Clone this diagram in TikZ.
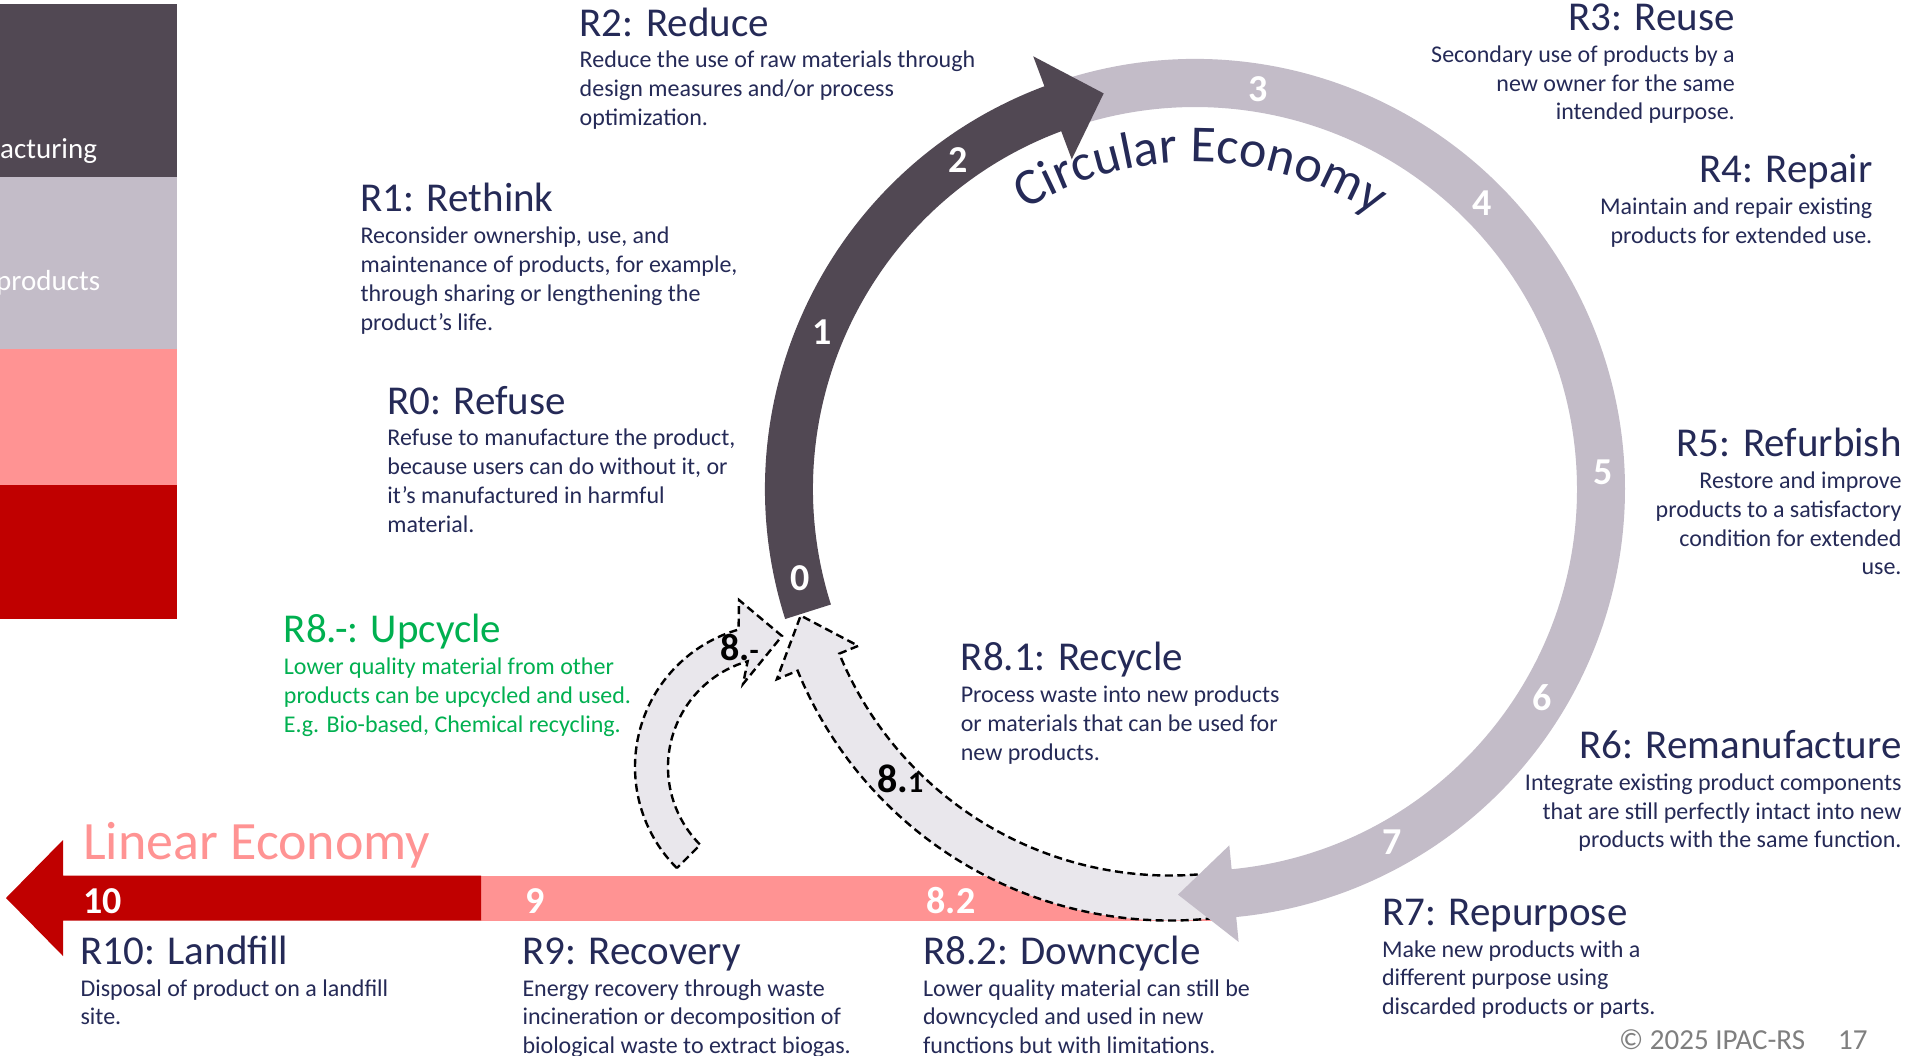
\documentclass[tikz,border=0pt]{standalone}
\usepackage{fontspec}
\setmainfont{Carlito}
\usetikzlibrary{decorations.text}

\definecolor{navy}{RGB}{37,42,87}
\definecolor{ringdark}{RGB}{81,72,83}
\definecolor{ringlight}{RGB}{195,188,200}
\definecolor{linpink}{RGB}{255,147,147}
\definecolor{linred}{RGB}{192,0,0}
\definecolor{upgreen}{RGB}{0,176,80}
\definecolor{loopfill}{RGB}{233,231,236}
\definecolor{footgray}{RGB}{127,127,127}

\newcommand\headfnt{\fontsize{41}{48}\selectfont}
\newcommand\bodyfnt{\fontsize{24}{28.8}\selectfont}
\newcommand\numfnt{\fontsize{38}{44}\selectfont\bfseries}
\newcommand\cefnt{\fontsize{52}{60}\selectfont}
\newcommand\legfnt{\fontsize{29}{34}\selectfont}

% text blocks: heading on the first baseline, body lines below
\newcommand\leftblock[2]{\vtop{\bodyfnt\halign{##\hfil\cr{\headfnt #1}\cr\noalign{\vskip 3pt}#2\crcr}}}
\newcommand\rightblock[2]{\vtop{\bodyfnt\halign{\hfil##\cr{\headfnt #1}\cr\noalign{\vskip 3pt}#2\crcr}}}

\begin{document}
\begin{tikzpicture}[x=1pt,y=1pt,
  dashbox/.style={fill=loopfill, draw=black, line width=2.4pt, dash pattern=on 8pt off 4.5pt},
  ringnum/.style={text=white, font=\numfnt, inner sep=0},
  blk/.style={inner sep=0, text=navy},
  leg/.style={anchor=base west, inner sep=0, text=white, font=\legfnt}]
\useasboundingbox (0,0) rectangle (1909,-1055);
\clip (0,0) rectangle (1909,-1055);
\fill[white] (0,0) rectangle (1909,-1055);

% colour legend strip on the left edge
\fill[ringdark]  (0,-3.7)   rectangle (176.5,-176.5);
\fill[ringlight] (0,-176.5) rectangle (176.5,-349.4);
\fill[linpink]   (0,-349.4) rectangle (176.5,-484.6);
\fill[linred]    (0,-484.6) rectangle (176.5,-618.5);
\node[leg] (legA) at (0,-158) {acturing};
\node[leg] (legB) at (-4,-290) {products};

% linear economy bar
\fill[linpink] (481,-875.5) rectangle (1215,-920.5);
\fill[linred] (6,-898) -- (63,-840) -- (63,-875.5) -- (481,-875.5) -- (481,-920.5)
  -- (63,-920.5) -- (63,-956) -- cycle;
\node[anchor=base west, inner sep=0, text=linpink, font=\fontsize{54}{60}\selectfont] (linE) at (83,-859.5) {Linear Economy};
\node[ringnum, anchor=base west] (b10) at (83,-913) {10};
\node[ringnum, anchor=base west] (b9) at (525,-913) {9};
\node[ringnum, anchor=base west] (b82) at (926.5,-913) {8.2};

% recycling loop (8.1)
\begin{scope}[shift={(1170,-518)}]
\draw[dashbox] (-82:402.5) arc[start angle=-82, end angle=-157.7, radius=402.5]
  -- (-157.7:425) -- (-165.2:382) -- (-157.7:337) -- (-157.7:357.5)
  arc[start angle=-157.7, end angle=-82, radius=357.5] -- cycle;
\end{scope}

% upcycling loop (8.-)
\begin{scope}[shift={(778,-767)}]
\draw[dashbox] (225:143) arc[start angle=225, end angle=106, radius=143]
  -- (-39,167) -- (4,131) -- (-35,83) -- (106:110)
  arc[start angle=106, end angle=225, radius=110] -- cycle;
\end{scope}
\node[anchor=base west, inner sep=0, font=\bfseries] (l8m) at (720,-660)
  {{\fontsize{38}{40}\selectfont 8.}{\fontsize{30}{34}\selectfont -}};
\node[anchor=base west, inner sep=0, font=\bfseries] (l81) at (877,-792)
  {{\fontsize{40}{40}\selectfont 8.}{\fontsize{30}{34}\selectfont 1}};

% circular economy ring
\begin{scope}[shift={(1195,-489)}]
\fill[ringlight] (108.5:430) arc[start angle=108.5, end angle=-84.5, radius=430]
  -- (-84.5:455) -- (-92.4:406) -- (-84.5:358) -- (-84.5:382)
  arc[start angle=-84.5, end angle=108.5, radius=382] -- cycle;
\fill[ringdark] (197.6:430) arc[start angle=197.6, end angle=110.5, radius=430]
  -- (110.5:462) -- (103:406) -- (110.5:352) -- (110.5:382)
  arc[start angle=110.5, end angle=197.6, radius=382] -- cycle;
\path[decorate, decoration={text along path, text={|\cefnt|Circular Economy},
  text align=center, text color=navy}]
  (126:327) arc[start angle=126, end angle=52, radius=327];
\node[ringnum] (n0) at (192.7:405) {0};
\node[ringnum] (n1) at (157.2:405) {1};
\node[ringnum] (n2) at (125.8:405) {2};
\node[ringnum] (n3) at (81:405) {3};
\node[ringnum] (n4) at (44.9:405) {4};
\node[ringnum] (n5) at (2.4:408) {5};
\node[ringnum] (n6) at (-31:405) {6};
\node[ringnum] (n7) at (-60.8:405) {7};
\end{scope}

% descriptions
\node[blk, anchor=base west] (r2) at (579.5,-36) {\leftblock{R2: Reduce}{Reduce the use of raw materials through\cr design measures and/or process\cr optimization.}};
\node[blk, anchor=base west] (r1) at (360.4,-211.8) {\leftblock{R1: Rethink}{Reconsider ownership, use, and\cr maintenance of products, for example,\cr through sharing or lengthening the\cr product’s life.}};
\node[blk, anchor=base west] (r0) at (387.2,-414) {\leftblock{R0: Refuse}{Refuse to manufacture the product,\cr because users can do without it, or\cr it’s manufactured in harmful\cr material.}};
\node[blk, anchor=base west, text=upgreen] (r8m) at (283.7,-642.8) {\leftblock{R8.-: Upcycle}{Lower quality material from other\cr products can be upcycled and used.\cr E.g. Bio-based, Chemical recycling.}};
\node[blk, anchor=base west] (r81) at (960.6,-670.8) {\leftblock{R8.1: Recycle}{Process waste into new products\cr or materials that can be used for\cr new products.}};
\node[blk, anchor=base east] (r3) at (1735,-30.4) {\rightblock{R3: Reuse}{Secondary use of products by a\cr new owner for the same\cr intended purpose.}};
\node[blk, anchor=base east] (r4) at (1872.5,-182.6) {\rightblock{R4: Repair}{Maintain and repair existing\cr products for extended use.}};
\node[blk, anchor=base east] (r5) at (1901.7,-456.6) {\rightblock{R5: Refurbish}{Restore and improve\cr products to a satisfactory\cr condition for extended\cr use.}};
\node[blk, anchor=base east] (r6) at (1901.7,-758.5) {\rightblock{R6: Remanufacture}{Integrate existing product components\cr that are still perfectly intact into new\cr products with the same function.}};
\node[blk, anchor=base west] (r7) at (1381.9,-925.3) {\leftblock{R7: Repurpose}{Make new products with a\cr different purpose using\cr discarded products or parts.}};
\node[blk, anchor=base west] (r10) at (80.4,-964.3) {\leftblock{R10: Landfill}{Disposal of product on a landfill\cr site.}};
\node[blk, anchor=base west] (r9) at (522.3,-964.3) {\leftblock{R9: Recovery}{Energy recovery through waste\cr incineration or decomposition of\cr biological waste to extract biogas.}};
\node[blk, anchor=base west] (r82) at (922.9,-964.3) {\leftblock{R8.2: Downcycle}{Lower quality material can still be\cr downcycled and used in new\cr functions but with limitations.}};

% footer
\node[anchor=base west, inner sep=0, text=footgray, font=\fontsize{29}{34}\selectfont] (copy) at (1619,-1049.5) {© 2025 IPAC-RS};
\node[anchor=base west, inner sep=0, text=footgray, font=\fontsize{29}{34}\selectfont] (page) at (1838,-1049.5) {17};
\end{tikzpicture}
\end{document}
